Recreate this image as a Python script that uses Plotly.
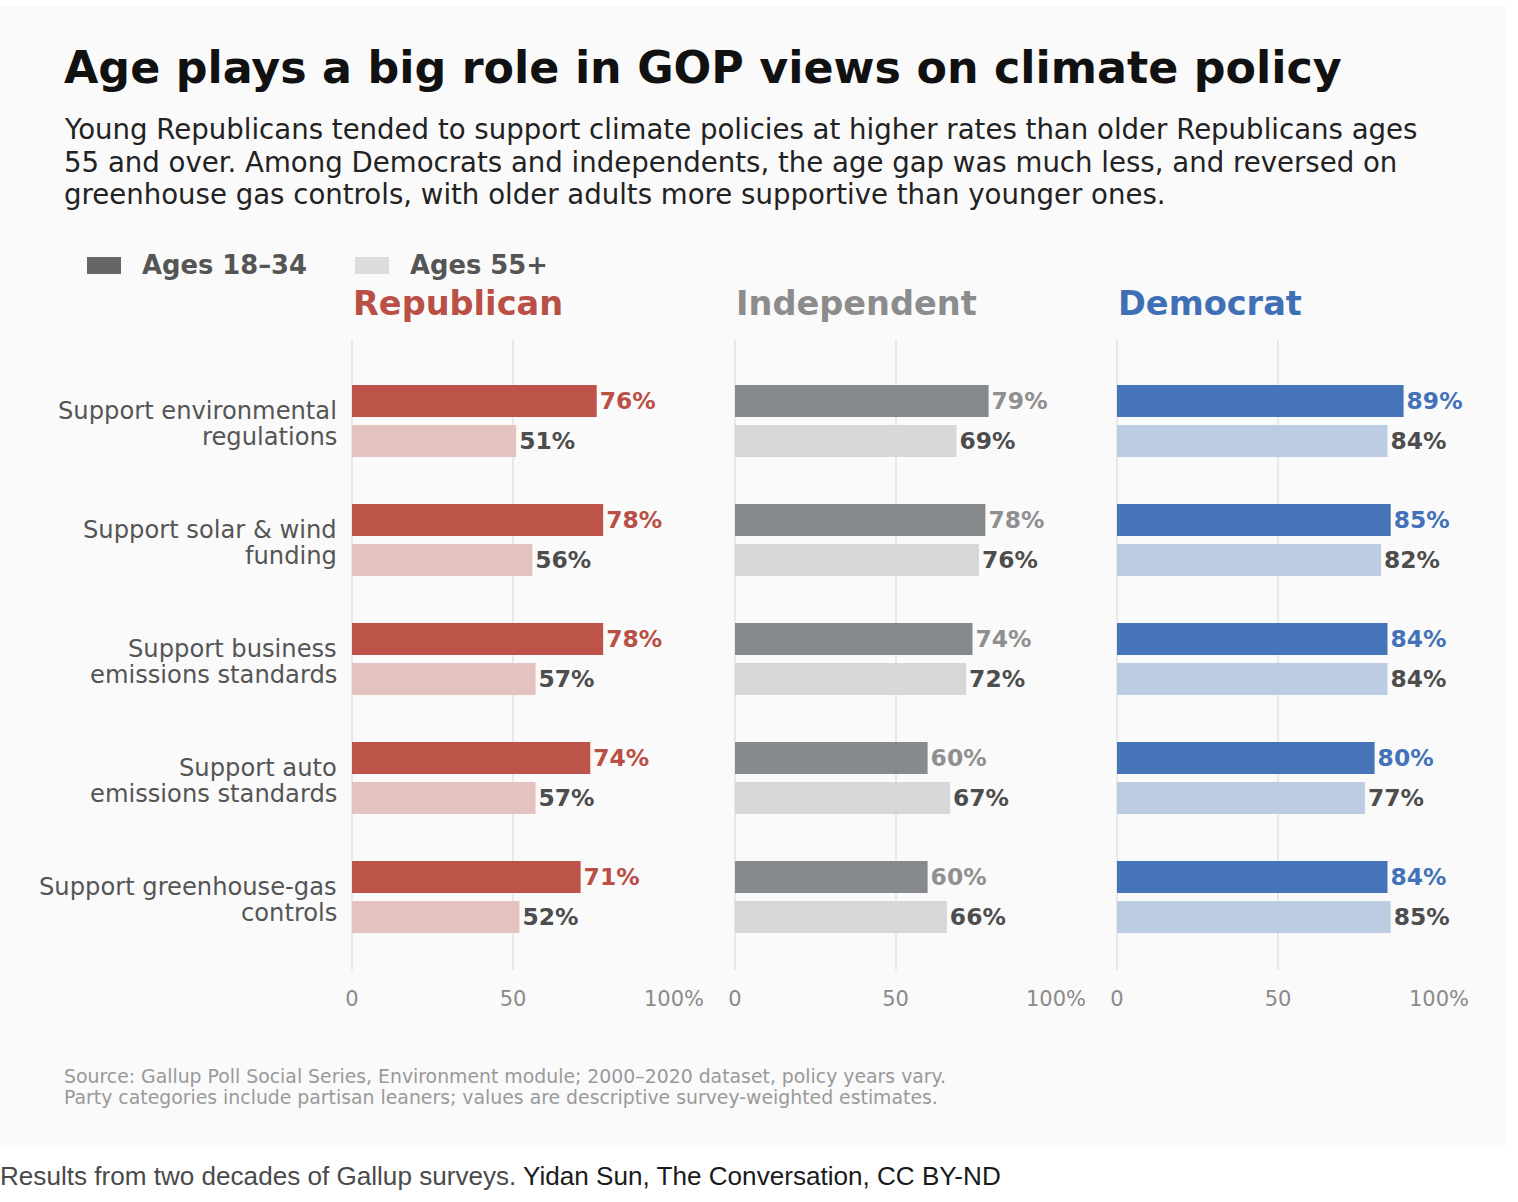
import plotly.graph_objects as go

# data
categories = [
    "Support environmental\nregulations",
    "Support solar & wind\nfunding",
    "Support business\nemissions standards",
    "Support auto\nemissions standards",
    "Support greenhouse-gas\ncontrols",
]
parties = ["Republican", "Independent", "Democrat"]
young_rep = [76, 78, 78, 74, 71]
old_rep = [51, 56, 57, 57, 52]
young_ind = [79, 78, 74, 60, 60]
old_ind = [69, 76, 72, 67, 66]
young_dem = [89, 85, 84, 80, 84]
old_dem = [84, 82, 84, 77, 85]
tick_vals = [0, 50, 100]
tick_text = ["0", "50", "100%"]

subtitle = [
    "Young Republicans tended to support climate policies at higher rates than older Republicans ages",
    "55 and over. Among Democrats and independents, the age gap was much less, and reversed on",
    "greenhouse gas controls, with older adults more supportive than younger ones.",
]
source = [
    "Source: Gallup Poll Social Series, Environment module; 2000–2020 dataset, policy years vary.",
    "Party categories include partisan leaners; values are descriptive survey-weighted estimates.",
]

W, H = 1518, 1202
FONT = "DejaVu Sans"

dark_colors = ["#bd5449", "#878a8c", "#4674b9"]
light_colors = ["#e4c2c0", "#d6d7d9", "#bccde3"]
title_colors = ["#b94f45", "#8c8c8c", "#3f6fb5"]
label_colors = ["#b94f45", "#8f8f8f", "#4472b8"]


def px_x(x):
    return x / W


def px_y(y):
    return 1 - y / H


def main():
    names = [c.replace("\n", " ") for c in categories]
    young = [young_rep, young_ind, young_dem]
    old = [old_rep, old_ind, old_dem]
    x_domains = [(352, 674), (735, 1056), (1117, 1439)]

    fig = go.Figure()
    for i in range(3):
        ax = "" if i == 0 else str(i + 1)
        for vals, col, tcol in [(young[i], dark_colors[i], label_colors[i]),
                                (old[i], light_colors[i], "#4d4d4d")]:
            fig.add_trace(go.Bar(
                x=vals, y=names, orientation="h",
                marker=dict(color=col, line=dict(width=0)),
                text=vals, texttemplate="%{text}%", textposition="outside",
                textfont=dict(family=FONT, size=23.4, color=tcol, weight="bold"),
                cliponaxis=False, constraintext="none",
                xaxis="x" + ax, yaxis="y" + ax, showlegend=False,
                hoverinfo="skip",
            ))

    layout = dict(
        width=W, height=H,
        margin=dict(l=0, r=0, t=0, b=0, pad=0, autoexpand=False),
        paper_bgcolor="white", plot_bgcolor="rgba(0,0,0,0)",
        barmode="group", bargap=0.328, bargroupgap=0.2,
        font=dict(family=FONT),
        showlegend=False,
    )
    for i in range(3):
        ax = "" if i == 0 else str(i + 1)
        layout["xaxis" + ax] = dict(
            domain=[px_x(x_domains[i][0]), px_x(x_domains[i][1])],
            range=[0, 100], tickvals=tick_vals, ticktext=tick_text,
            showgrid=True, gridcolor="#e8e8e8", gridwidth=1.5,
            zeroline=True, zerolinecolor="#e8e8e8", zerolinewidth=1.5,
            showline=False, ticks="", ticklabelstandoff=14, automargin=False,
            tickfont=dict(family=FONT, size=21, color="#8a8a8a"),
            anchor="y" + ax, fixedrange=True,
        )
        layout["yaxis" + ax] = dict(
            domain=[px_y(970), px_y(340)], automargin=False,
            range=[4.613, -0.68], showticklabels=False, showgrid=False,
            zeroline=False, ticks="", anchor="x" + ax, fixedrange=True,
        )
    fig.update_layout(**layout)

    shapes = [dict(type="rect", xref="paper", yref="paper", layer="below",
                   x0=0, x1=px_x(1507), y0=px_y(1145), y1=px_y(6),
                   fillcolor="#fafafa", line=dict(width=0))]
    # legend swatches
    for x0, col in [(87, "#666666"), (355, "#dcdcdc")]:
        shapes.append(dict(type="rect", xref="paper", yref="paper",
                           x0=px_x(x0), x1=px_x(x0 + 34), y0=px_y(274), y1=px_y(257),
                           fillcolor=col, line=dict(width=0)))
    fig.update_layout(shapes=shapes)

    ann = []

    def text(x, y, s, size, color, xanchor="left", family=FONT):
        ann.append(dict(x=px_x(x), y=px_y(y), xref="paper", yref="paper",
                        text=s, showarrow=False, xanchor=xanchor, yanchor="middle",
                        align=xanchor, font=dict(family=family, size=size, color=color)))

    text(62, 68, "<b>Age plays a big role in GOP views on climate policy</b>", 44.4, "#111111")
    for j, line in enumerate(subtitle):
        text(62, 129.5 + j * 32.5, line, 27.6, "#222222")
    text(140, 265, "<b>Ages 18–34</b>", 25.8, "#555555")
    text(408, 265, "<b>Ages 55+</b>", 25.8, "#555555")
    for i, p in enumerate(parties):
        text(x_domains[i][0] - 1, 303, "<b>" + p + "</b>", 33.6, title_colors[i])
    for j, line in enumerate(source):
        text(62, 1076 + j * 21, line, 18.85, "#999999")
    text(-2, 1176, "<span style='color:#4a4a4a'>Results from two decades of Gallup surveys.</span> "
                   "Yidan Sun, The Conversation, CC BY-ND", 26.1, "#1a1a1a",
         family="Liberation Sans, Arial")

    # category labels, one annotation per line
    for k, c in enumerate(categories):
        lines = c.split("\n")
        shifts = [10, -16] if len(lines) == 2 else [0]
        for line, sh in zip(lines, shifts):
            ann.append(dict(x=px_x(339), y=k, xref="paper", yref="y", yshift=sh,
                            text=line, showarrow=False, xanchor="right", yanchor="middle",
                            font=dict(family=FONT, size=24.2, color="#555555")))
    fig.update_layout(annotations=ann)

    fig.write_html("out.html", config={"displayModeBar": False},
                   post_script="document.body.style.margin='0px';")


if __name__ == "__main__":
    main()
